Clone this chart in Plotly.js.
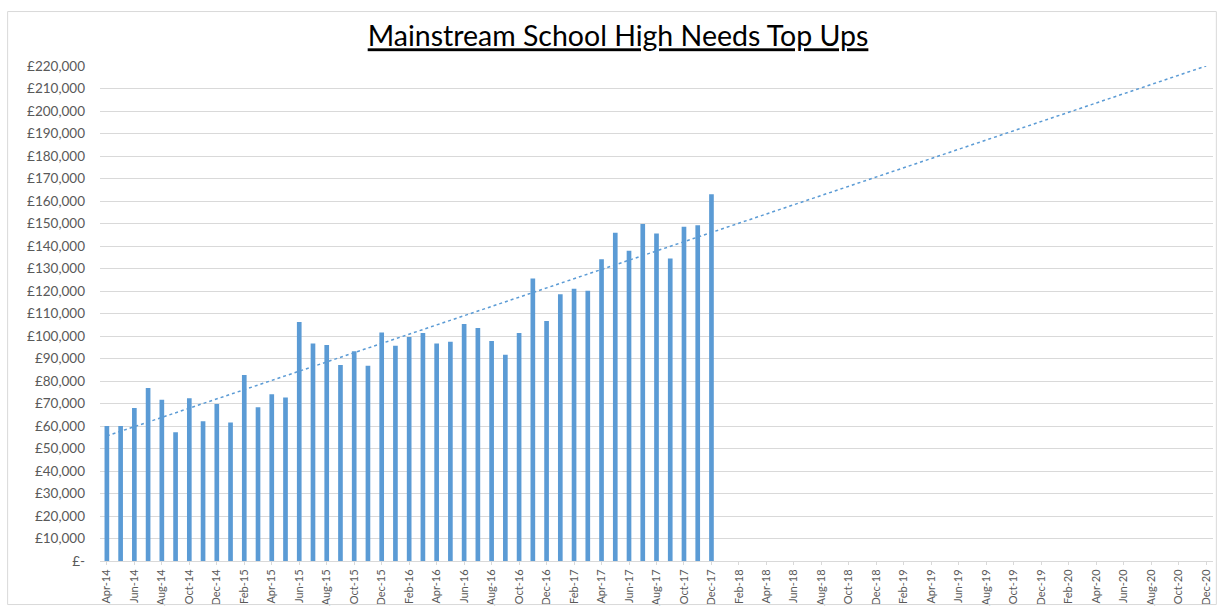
<!DOCTYPE html>
<html>
<head>
<meta charset="utf-8">
<script src="https://cdn.plot.ly/plotly-3.0.1.min.js"></script>
<style>
html,body{margin:0;padding:0;background:#fff;}
#chart{width:1219px;height:606px;}
</style>
</head>
<body>
<div id="chart"></div>
<script>
var months = ["Apr-14","May-14","Jun-14","Jul-14","Aug-14","Sep-14","Oct-14","Nov-14","Dec-14",
"Jan-15","Feb-15","Mar-15","Apr-15","May-15","Jun-15","Jul-15","Aug-15","Sep-15","Oct-15","Nov-15","Dec-15",
"Jan-16","Feb-16","Mar-16","Apr-16","May-16","Jun-16","Jul-16","Aug-16","Sep-16","Oct-16","Nov-16","Dec-16",
"Jan-17","Feb-17","Mar-17","Apr-17","May-17","Jun-17","Jul-17","Aug-17","Sep-17","Oct-17","Nov-17","Dec-17",
"Jan-18","Feb-18","Mar-18","Apr-18","May-18","Jun-18","Jul-18","Aug-18","Sep-18","Oct-18","Nov-18","Dec-18",
"Jan-19","Feb-19","Mar-19","Apr-19","May-19","Jun-19","Jul-19","Aug-19","Sep-19","Oct-19","Nov-19","Dec-19",
"Jan-20","Feb-20","Mar-20","Apr-20","May-20","Jun-20","Jul-20","Aug-20","Sep-20","Oct-20","Nov-20","Dec-20"];

var barMonths = months.slice(0, 45);
var topUps = [60000,60000,68000,76900,71700,57200,72300,62100,69800,
61600,82700,68300,74100,72700,106200,96700,96000,87100,93200,86800,101600,
95700,99600,101300,96700,97500,105300,103600,97800,91700,101300,125500,106700,
118500,121000,120100,134100,145900,137900,149800,145600,134400,148600,149200,163000];

var trendMonths = ["Apr-14","Dec-20"];
var trendValues = [55600, 220000];

var xTickLabels = ["Apr-14","Jun-14","Aug-14","Oct-14","Dec-14","Feb-15","Apr-15","Jun-15","Aug-15","Oct-15","Dec-15",
"Feb-16","Apr-16","Jun-16","Aug-16","Oct-16","Dec-16","Feb-17","Apr-17","Jun-17","Aug-17","Oct-17","Dec-17",
"Feb-18","Apr-18","Jun-18","Aug-18","Oct-18","Dec-18","Feb-19","Apr-19","Jun-19","Aug-19","Oct-19","Dec-19",
"Feb-20","Apr-20","Jun-20","Aug-20","Oct-20","Dec-20"];

var yTickVals = [0,10000,20000,30000,40000,50000,60000,70000,80000,90000,100000,110000,120000,130000,140000,150000,160000,170000,180000,190000,200000,210000,220000];
var yTickText = ["£-","£10,000","£20,000","£30,000","£40,000","£50,000","£60,000","£70,000","£80,000","£90,000","£100,000","£110,000","£120,000","£130,000","£140,000","£150,000","£160,000","£170,000","£180,000","£190,000","£200,000","£210,000","£220,000"];

var traces = [
  {type:"bar", x:barMonths, y:topUps, marker:{color:"#5B9BD5"}, hoverinfo:"x+y"},
  {type:"scatter", mode:"lines", x:trendMonths, y:trendValues,
   line:{color:"#5B9BD5", width:1.5, dash:"dot"}, hoverinfo:"skip"}
];

var layout = {
  width:1219, height:606,
  paper_bgcolor:"#fff", plot_bgcolor:"#fff",
  margin:{l:100, r:6, t:66, b:45},
  showlegend:false,
  bargap:0.66,
  font:{family:"Lato, 'Liberation Sans', sans-serif", color:"#595959", size:11},
  title:{text:"<u>Mainstream School High Needs Top Ups</u>", x:0.507, xanchor:"center", y:0.94, yanchor:"middle",
         font:{family:"Lato, 'Open Sans', sans-serif", size:28.5, color:"#000"}},
  xaxis:{type:"category", categoryorder:"array", categoryarray:months,
         range:[-0.5, 80.5], tickmode:"array", tickvals:xTickLabels, ticktext:xTickLabels,
         tickangle:-90, tickfont:{size:11, color:"#595959"},
         showgrid:false, showline:true, linecolor:"#d9d9d9", linewidth:1,
         ticks:"outside", ticklen:3, tickcolor:"#d9d9d9", zeroline:false, fixedrange:true},
  yaxis:{range:[0,220000], tickmode:"array", tickvals:yTickVals, ticktext:yTickText,
         tickfont:{size:13.5, color:"#595959"}, showgrid:true, gridcolor:"#d9d9d9", gridwidth:1,
         showline:false, zeroline:false, ticks:"", ticklabelstandoff:14, fixedrange:true},
  shapes:[{type:"rect", xref:"paper", yref:"paper", x0:-0.083, x1:1.003, y0:-0.088, y1:1.11,
           line:{color:"#d9d9d9", width:1}, fillcolor:"rgba(0,0,0,0)"}]
};

Plotly.newPlot("chart", traces, layout, {displayModeBar:false, staticPlot:true});
</script>
</body>
</html>
